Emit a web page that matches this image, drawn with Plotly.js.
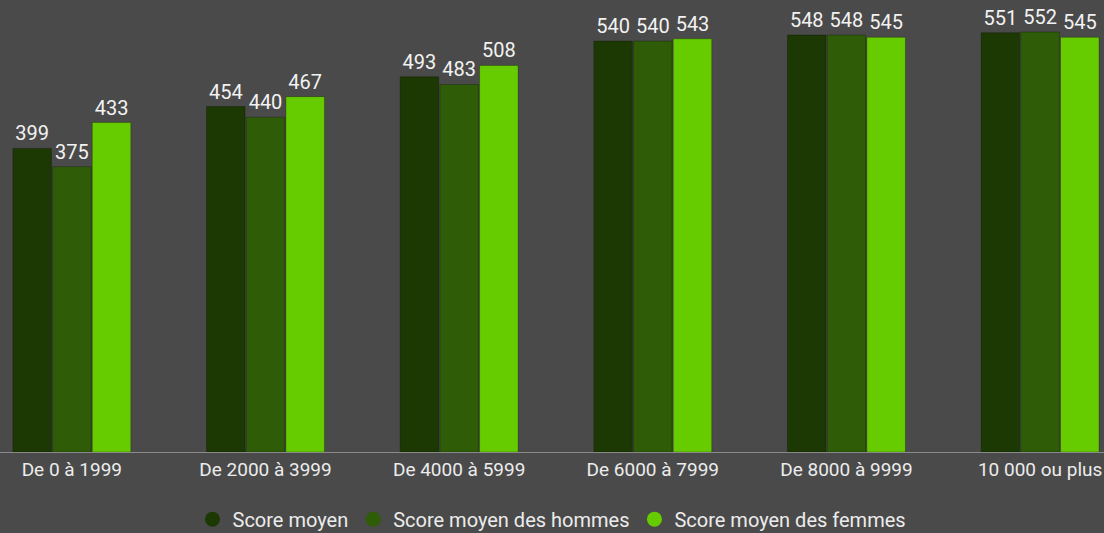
<!DOCTYPE html>
<html><head><meta charset="utf-8">
<script src="https://cdn.plot.ly/plotly-3.0.1.min.js"></script>
<style>html,body{margin:0;padding:0;background:#4a4a4a;}#chart{width:1104px;height:533px;}</style>
</head><body><div id="chart"></div>
<script>
const categories = ["De 0 à 1999", "De 2000 à 3999", "De 4000 à 5999", "De 6000 à 7999", "De 8000 à 9999", "10 000 ou plus"];
const seriesNames = ["Score moyen", "Score moyen des hommes", "Score moyen des femmes"];
const scoreMoyen = [399, 454, 493, 540, 548, 551];
const scoreHommes = [375, 440, 483, 540, 548, 552];
const scoreFemmes = [433, 467, 508, 543, 545, 545];
const colors = ["#1d3903", "#2f5c07", "#66cc00"];
const values = [scoreMoyen, scoreHommes, scoreFemmes];

const traces = [];
values.forEach((v, i) => {
  traces.push({
    type: 'bar', x: categories, y: v, name: seriesNames[i], showlegend: false,
    marker: {color: colors[i], line: {color: 'rgba(0,0,0,0.25)', width: 1}},
    text: v.map(String), textposition: 'outside', cliponaxis: false,
    textfont: {color: '#f2f2f2', size: 20, family: 'Roboto'}, hoverinfo: 'x+y'
  });
});
values.forEach((v, i) => {
  traces.push({
    type: 'scatter', mode: 'markers', x: [null], y: [null], name: seriesNames[i],
    marker: {color: colors[i], size: 15, symbol: 'circle'}, showlegend: true
  });
});

const layout = {
  width: 1104, height: 533,
  paper_bgcolor: '#4a4a4a', plot_bgcolor: '#4a4a4a',
  margin: {l: 0, r: 0, t: 0, b: 81, autoexpand: false},
  barmode: 'group', bargap: 0.385, bargroupgap: 0.03,
  font: {family: 'Roboto', color: '#ececec', size: 18},
  xaxis: {type: 'category', range: [-0.371, 5.33], showgrid: false, zeroline: false,
    showline: true, linecolor: '#8a8a8a', linewidth: 1, ticks: '', automargin: false,
    tickfont: {size: 19, color: '#ececec'}},
  yaxis: {range: [0, 594], visible: false, showgrid: false, zeroline: false},
  showlegend: true,
  legend: {orientation: 'h', x: 0.5, xanchor: 'center', yref: 'container', y: 0.026, yanchor: 'middle',
    font: {size: 20, color: '#ececec'}, itemwidth: 30, tracegroupgap: 0}
};
Plotly.newPlot('chart', traces, layout, {displayModeBar: false, staticPlot: true});
</script></body></html>
